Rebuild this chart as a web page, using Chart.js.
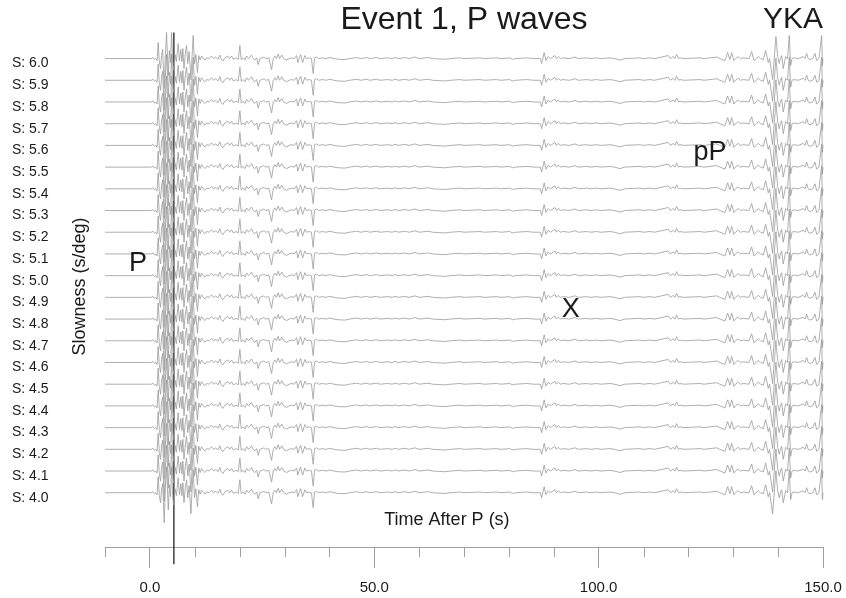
<!DOCTYPE html>
<html>
<head>
<meta charset="utf-8">
<script src="https://cdn.jsdelivr.net/npm/chart.js@4.4.1/dist/chart.umd.min.js"></script>
<style>
  html, body { margin: 0; padding: 0; background: #fff; }
  canvas { display: block; }
</style>
</head>
<body>
<canvas id="section" width="846" height="598"></canvas>
<script>
// slowness of each beam trace (s/deg)
const slownessLevels = [6.0, 5.9, 5.8, 5.7, 5.6, 5.5, 5.4, 5.3, 5.2, 5.1, 5.0,
  4.9, 4.8, 4.7, 4.6, 4.5, 4.4, 4.3, 4.2, 4.1, 4.0];

// beam waveform: time after P (s) and amplitude (counts)
const waveTime = [
  -10, 0.3, 0.7, 1.0, 1.3, 1.6, 1.85, 2.1, 2.38, 2.6, 2.85, 3.19, 3.45, 3.72, 3.95,
  4.1, 4.35, 4.6, 4.84, 5.1, 5.3, 5.6, 5.9, 6.31, 6.6, 6.9, 7.15, 7.35, 7.6, 7.9,
  8.18, 8.45, 8.75, 9.14, 9.4, 9.65, 9.95, 10.25, 10.6, 10.9, 11.2, 11.52, 11.9, 12.3,
  12.64, 13.2, 13.75, 14.2, 14.7, 15.2, 15.6, 15.9, 16.27, 16.7, 17.38, 17.8, 18.21,
  18.6, 19.2, 19.7, 20.06, 20.35, 20.8, 21.2, 21.55, 22.0, 22.67, 23.0, 23.4, 23.8,
  24.14, 24.5, 25.0, 25.41, 25.8, 26.5, 27.12, 27.5, 27.86, 28.2, 28.59, 28.9, 29.4,
  29.8, 30.47, 31.0, 31.6, 32.2, 32.69, 32.98, 33.3, 33.59, 34.03, 34.54, 34.9, 35.5,
  36.0, 36.39, 36.7, 37.15, 37.6, 38.5, 39.3, 40.12, 41, 42, 43.5, 44.5, 46.07, 47,
  48.3, 49, 50.5, 51.3, 53, 54, 54.6, 55.5, 56.8, 57.8, 59.06, 60, 62, 63, 65.74, 67,
  69.1, 70, 73.55, 74.5, 77.27, 78.2, 80.2, 80.8, 81.5, 84, 85.5, 87.0, 87.3, 87.87,
  88.25, 88.77, 89.2, 89.52, 90.26, 90.6, 90.99, 91.5, 92.04, 93.5, 94.72, 95.5,
  97.32, 98.3, 99.55, 100.5, 102.52, 103.5, 104.75, 105.8, 109.2, 110, 111.43, 112.5,
  115.51, 116.0, 116.63, 117.0, 117.38, 117.8, 118.12, 119, 122.57, 123.5, 126.3, 127,
  128.15, 128.75, 129.26, 129.64, 130.15, 130.5, 131.11, 131.6, 132.23, 133.5, 134.1,
  134.61, 135.1, 135.57, 136.1, 136.69, 137.22, 137.8, 138.1, 138.78, 139.2, 139.51,
  139.9, 140.25, 140.5, 140.79, 141.14, 141.5, 141.68, 142.1, 142.48, 142.79, 143.1,
  143.37, 144.5, 145.6, 146.0, 146.36, 146.7, 147.1, 147.7, 148.21, 148.59, 149.1,
  149.7, 149.87, 150
];
const waveAmp = [
  0, 0, 1, -1, 0, -2, 16, -3, -10, 3, 9, -30, 4, 26, 0,
  -17, 8, -4, 26, -6, -12, 4, -3, 15, -2, 9, -3, 10, -10, 5,
  13, -5, 7, -21, 2, 23, -5, 4, -14, 3, -1.5, 2.5, 0, -1.5,
  0.7, 0, 2.5, 0, 1.5, -0.7, 3.5, -0.7, -2.5, 0.7, 2.5, 0, 2.5,
  -0.7, 0.7, -0.7, 13, -1, 0.7, -1.5, 2.5, 0, 3.5, 0, -1.5, 0.7,
  -6, 0, 0.7, 1.5, 0, 0.7, -11, 0, 2.5, 0, 4.5, 0, 3.5,
  0, -1.5, 0, 0.7, 0, 3, -4, 1, 4, -4, 3, 0, 0.7,
  0, -15, 0.7, 1.5, 0, 0.7, 0, 1, 0, -0.7, -1, 0, 1, 0,
  1, 0, 1, 0, 0.7, 0, 1, 0, 1, 0, 1.5, 0, 1, 0, -0.7, 0,
  0.7, 0, 0.7, 0, 0.7, 0, 0.7, -0.7, 0, 0.7, 0, 0, -5, 6,
  -2, 2, 0, 0.7, 3, 0, 2, 0, 0.7, 0, 1.5, 0,
  0.7, 0, 0.7, 0, 0.7, 0, -1.5, 0, 0.7, 0, 0.7, 0,
  3, 0, 2, 0, 4, 0, 0.7, 0, 0.7, 0, 1.5, 0,
  -2, 6, -1, 6, -2, 0, 2, 0, 0.7, 0, 7,
  -2, 0, 2, 0, -1, 8, -4, 0, -21, 4, 22,
  2, -5, 0, 3, -10, -2, 2, 0, 23, -7, 0,
  0.7, 0, 2, 0, 5, 0, -1, 0, 5, -2, 0,
  23, -7, 0
];

// P pick line (time and slowness extent)
const pickTime = 5.35;
const pickRange = [6.12, 3.67];

const xTickValues = [-10, 0, 10, 20, 30, 40, 50, 60, 70, 80, 90, 100, 110, 120, 130, 140, 150];
const xMajorTicks = [0, 50, 100, 150];

const gain = 0.1 / 21.7; // amplitude counts -> s/deg
const FONT = "'Liberation Sans', Arial, Helvetica, sans-serif";
const traceColor = "#9a9a9a";
const axisColor = "#a0a0a0";
const textColor = "#1a1a1a";

const datasets = slownessLevels.map((s) => ({
  label: "S: " + s.toFixed(1),
  data: waveTime.map((t, i) => ({ x: t, y: s + waveAmp[i] * gain })),
  borderColor: traceColor,
  borderWidth: 0.8,
  pointRadius: 0,
  tension: 0,
  clip: false,
}));

datasets.push({
  label: "P pick",
  data: pickRange.map((s) => ({ x: pickTime, y: s })),
  borderColor: "#111",
  borderWidth: 1.2,
  pointRadius: 0,
  clip: false,
});

// minor ticks + text labels
const sectionText = {
  id: "sectionText",
  afterDraw(chart) {
    const { ctx, chartArea } = chart;
    const xs = chart.scales.x;
    const ys = chart.scales.y;
    ctx.save();

    ctx.strokeStyle = axisColor;
    ctx.lineWidth = 1;
    xTickValues.forEach((v) => {
      if (xMajorTicks.includes(v)) return;
      const px = Math.round(xs.getPixelForValue(v)) + 0.5;
      ctx.beginPath();
      ctx.moveTo(px, xs.top);
      ctx.lineTo(px, xs.top + 10);
      ctx.stroke();
    });

    ctx.fillStyle = textColor;
    ctx.textBaseline = "middle";

    ctx.font = `32px ${FONT}`;
    ctx.textAlign = "center";
    ctx.fillText("Event 1, P waves", (chartArea.left + chartArea.right) / 2, 20);

    ctx.font = `30px ${FONT}`;
    ctx.textAlign = "right";
    ctx.fillText("YKA", chartArea.right, 20);

    ctx.textAlign = "center";
    ctx.font = `18px ${FONT}`;
    ctx.fillText("Time After P (s)", xs.getPixelForValue(66.2), ys.getPixelForValue(3.876));

    ctx.font = `27px ${FONT}`;
    ctx.fillText("P", xs.getPixelForValue(-2.67), ys.getPixelForValue(5.058));
    ctx.fillText("X", xs.getPixelForValue(93.8), ys.getPixelForValue(4.846));
    ctx.fillText("pP", xs.getPixelForValue(124.8), ys.getPixelForValue(5.565));

    ctx.restore();
  },
};

new Chart(document.getElementById("section"), {
  type: "line",
  data: { datasets },
  options: {
    responsive: false,
    animation: false,
    events: [],
    layout: { padding: { left: 12, right: 23, top: 26, bottom: 0 } },
    plugins: {
      legend: { display: false },
      tooltip: { enabled: false },
      title: { display: false },
    },
    scales: {
      x: {
        type: "linear",
        position: "bottom",
        min: -10,
        max: 150,
        afterBuildTicks: (scale) => {
          scale.ticks = xTickValues.map((v) => ({ value: v }));
        },
        afterFit: (scale) => {
          scale.height = 51;
          scale.paddingLeft = 0;
          scale.paddingRight = 0;
        },
        border: { display: true, color: axisColor, width: 1 },
        grid: {
          display: true,
          drawOnChartArea: false,
          drawTicks: true,
          tickLength: 21,
          tickWidth: 1,
          tickColor: (c) => (c.tick && xMajorTicks.includes(c.tick.value) ? axisColor : "rgba(0,0,0,0)"),
        },
        ticks: {
          autoSkip: false,
          maxRotation: 0,
          padding: 11,
          color: textColor,
          font: { family: FONT, size: 15 },
          callback: (v) => (xMajorTicks.includes(v) ? v.toFixed(1) : ""),
        },
      },
      y: {
        type: "linear",
        position: "left",
        weight: 0,
        min: 3.75,
        max: 6.15,
        afterFit: (scale) => {
          scale.width = 41;
        },
        grid: { display: false },
        border: { display: false },
        ticks: { display: false },
        title: {
          display: true,
          text: "Slowness (s/deg)",
          color: textColor,
          font: { family: FONT, size: 18 },
          padding: { top: 5, bottom: 0 },
        },
      },
      yl: {
        type: "linear",
        position: "left",
        weight: 1,
        min: 3.75,
        max: 6.15,
        afterBuildTicks: (scale) => {
          scale.ticks = slownessLevels.map((v) => ({ value: v }));
        },
        afterFit: (scale) => {
          scale.width = 52;
        },
        grid: { display: false },
        border: { display: false },
        ticks: {
          autoSkip: false,
          crossAlign: "far",
          labelOffset: 5,
          padding: 0,
          color: textColor,
          font: { family: FONT, size: 14 },
          callback: (v) => "S: " + v.toFixed(1),
        },
      },
    },
  },
  plugins: [sectionText],
});
</script>
</body>
</html>
